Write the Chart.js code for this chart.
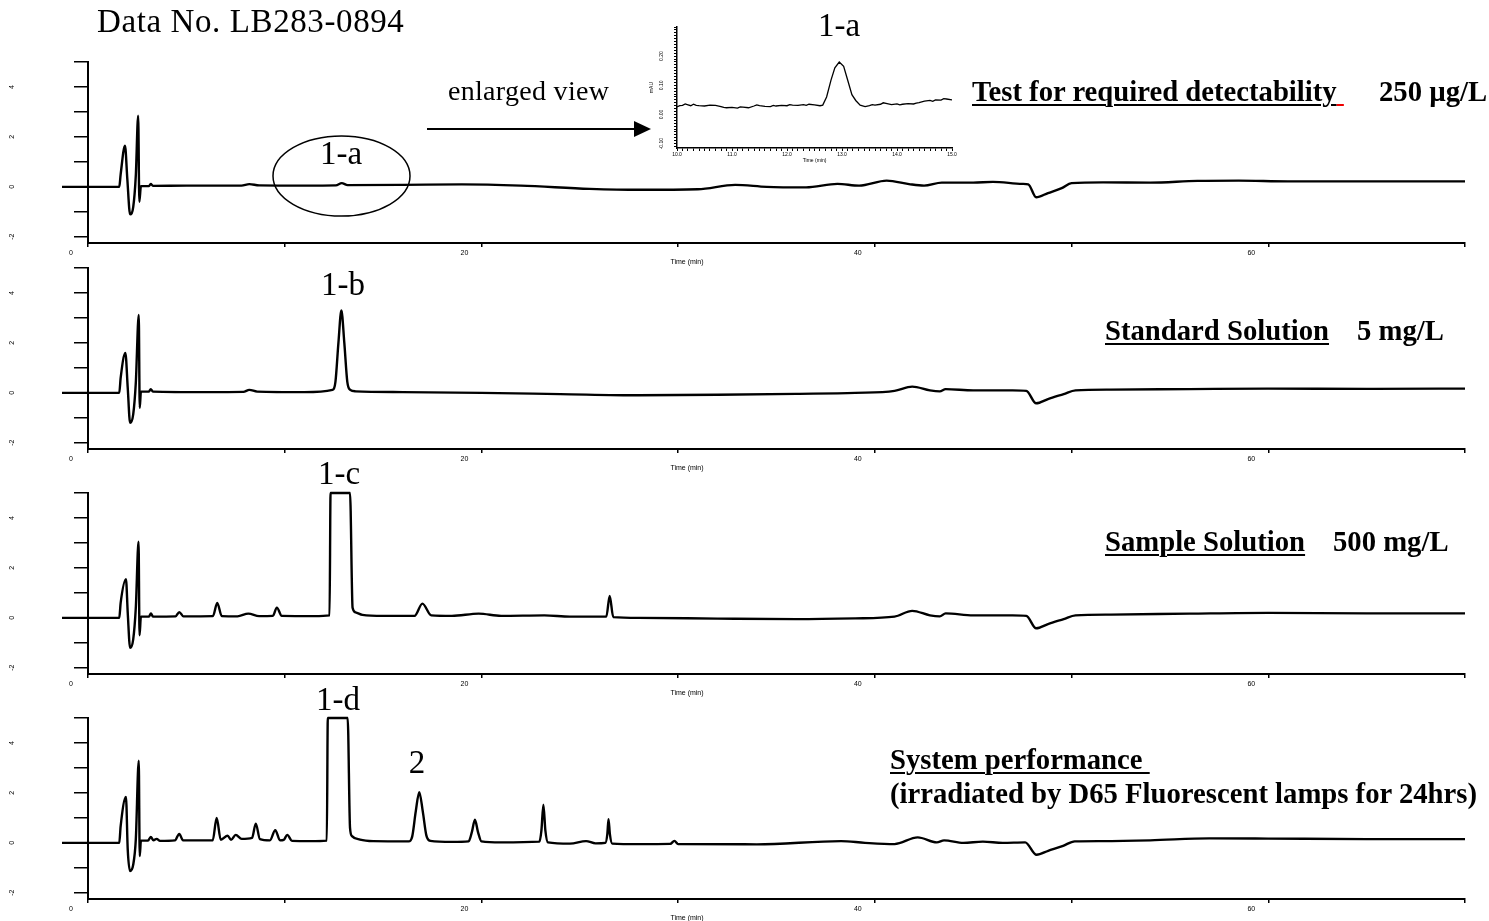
<!DOCTYPE html>
<html>
<head>
<meta charset="utf-8">
<script src="https://cdn.jsdelivr.net/npm/chart.js@4.4.1/dist/chart.umd.min.js"></script>
<style>
  body { margin: 0; background: #fff; width: 1489px; height: 921px; position: relative; overflow: hidden;
         font-family: "Liberation Serif", "Times New Roman", serif; color: #000; }
  .panel { position: absolute; left: 0; width: 1489px; height: 215px; }
  .inset { position: absolute; left: 640px; top: 20px; width: 335px; height: 152px; }
  .txt { position: absolute; white-space: nowrap; line-height: 1; }
  .b { font-weight: bold; font-size: 28.7px; }
  .b u { text-decoration-thickness: 2px; text-underline-offset: 3px; }
  .pk { font-size: 33px; width: 80px; text-align: center; }
  svg { position: absolute; left: 0; top: 0; }
</style>
</head>
<body>

<div class="panel" style="top:58px"><canvas id="test"></canvas></div>
<div class="panel" style="top:264px"><canvas id="standard"></canvas></div>
<div class="panel" style="top:489px"><canvas id="sample"></canvas></div>
<div class="panel" style="top:714px"><canvas id="system"></canvas></div>
<div class="inset"><canvas id="enlarged"></canvas></div>

<svg width="1489" height="921">
  <ellipse cx="341.5" cy="176" rx="68.5" ry="40" fill="none" stroke="#000" stroke-width="1.5"/>
  <line x1="427" y1="129" x2="635" y2="129" stroke="#000" stroke-width="2"/>
  <polygon points="634,121 651,129 634,137" fill="#000"/>
</svg>

<div class="txt" style="left:97px;top:5px;font-size:33px;letter-spacing:0.6px">Data No. LB283-0894</div>
<div class="txt pk" style="left:799px;top:9px">1-a</div>
<div class="txt" style="left:448px;top:77px;font-size:28px;letter-spacing:0.3px">enlarged view</div>
<div class="txt pk" style="left:301px;top:137px">1-a</div>
<div class="txt pk" style="left:303px;top:268px">1-b</div>
<div class="txt pk" style="left:299px;top:457px">1-c</div>
<div class="txt pk" style="left:298px;top:683px">1-d</div>
<div class="txt pk" style="left:377px;top:746px">2</div>

<div class="txt b" style="left:972px;top:77px"><u>Test for required detectability</u><u style="text-decoration-color:#e00">&nbsp;</u></div>
<div class="txt b" style="left:1379px;top:77px">250 µg/L</div>
<div class="txt b" style="left:1105px;top:316px"><u>Standard Solution</u></div>
<div class="txt b" style="left:1357px;top:316px">5 mg/L</div>
<div class="txt b" style="left:1105px;top:527px"><u>Sample Solution</u></div>
<div class="txt b" style="left:1333px;top:527px">500 mg/L</div>
<div class="txt b" style="left:890px;top:745px"><u>System performance&nbsp;</u></div>
<div class="txt b" style="left:890px;top:779px">(irradiated by D65 Fluorescent lamps for 24hrs)</div>

<script>
// retention time (min) and signal (mAU)
const testTime = [-1.32, 1.59, 1.66, 1.88, 2.00, 2.14, 2.30, 2.43, 2.55, 2.61, 2.69, 3.10, 3.19, 3.30, 5.0, 7.8, 8.2, 8.7, 11.0, 12.6, 12.9, 13.2, 16.0, 19.0, 22.0, 25.5, 28.0, 31.0, 32.9, 34.5, 36.5, 38.1, 39.2, 40.6, 41.8, 42.5, 43.4, 45.0, 46.0, 47.5, 47.8, 48.2, 48.8, 49.5, 50.0, 51.6, 54.0, 56.4, 58.5, 61.0, 65.0, 70.0];
const testSignal = [0, 0, 0.5, 1.65, 0.3, -1.1, -0.8, 0.45, 2.85, -0.6, 0.03, 0.03, 0.12, 0.04, 0.05, 0.05, 0.11, 0.06, 0.05, 0.06, 0.15, 0.07, 0.08, 0.1, 0.05, -0.08, -0.12, -0.1, 0.08, 0.0, -0.02, 0.12, 0.05, 0.25, 0.1, 0.05, 0.17, 0.17, 0.2, 0.12, 0.1, -0.42, -0.25, -0.05, 0.15, 0.18, 0.17, 0.24, 0.25, 0.22, 0.22, 0.22];

const standardTime = [-1.32, 1.59, 1.66, 1.90, 2.02, 2.14, 2.30, 2.43, 2.58, 2.63, 2.69, 3.10, 3.19, 3.30, 6.0, 7.9, 8.2, 8.6, 11.0, 12.43, 12.58, 12.73, 12.88, 13.03, 13.18, 13.33, 13.6, 16.0, 20.0, 24.0, 28.0, 32.0, 36.0, 39.0, 41.0, 41.9, 42.8, 43.3, 43.6, 45.0, 47.0, 47.7, 48.2, 48.8, 49.6, 50.2, 52.0, 56.0, 60.0, 65.0, 70.0];
const standardSignal = [0, 0, 0.6, 1.6, 0.2, -1.2, -0.85, 0.4, 3.12, -0.6, 0.05, 0.05, 0.15, 0.05, 0.03, 0.04, 0.12, 0.05, 0.03, 0.12, 0.45, 2.0, 3.3, 2.0, 0.45, 0.12, 0.06, 0.03, 0.0, -0.05, -0.1, -0.08, -0.04, 0.0, 0.08, 0.25, 0.1, 0.06, 0.15, 0.1, 0.1, 0.08, -0.42, -0.25, -0.05, 0.1, 0.13, 0.15, 0.17, 0.16, 0.17];

const sampleTime = [-1.32, 1.59, 1.66, 1.93, 2.02, 2.14, 2.30, 2.43, 2.57, 2.62, 2.69, 3.10, 3.20, 3.30, 4.45, 4.64, 4.85, 6.35, 6.57, 6.80, 7.6, 8.15, 8.7, 9.4, 9.6, 9.85, 11.5, 12.28, 12.33, 13.32, 13.45, 13.6, 13.95, 15.0, 16.6, 17.0, 17.45, 18.5, 19.86, 21.0, 23.2, 24.5, 26.35, 26.52, 26.7, 28.0, 32.0, 36.0, 39.0, 41.0, 41.9, 42.8, 43.3, 43.6, 45.0, 47.0, 47.7, 48.2, 48.8, 49.6, 50.2, 52.0, 56.0, 60.0, 65.0, 70.0];
const sampleSignal = [0, 0, 0.6, 1.55, 0.2, -1.2, -0.85, 0.4, 3.05, -0.7, 0.05, 0.05, 0.18, 0.05, 0.06, 0.23, 0.06, 0.07, 0.6, 0.07, 0.06, 0.17, 0.07, 0.08, 0.41, 0.08, 0.07, 0.1, 5, 5, 0.4, 0.22, 0.12, 0.08, 0.08, 0.57, 0.1, 0.08, 0.17, 0.08, 0.1, 0.05, 0.05, 0.88, 0.03, 0.0, -0.03, -0.05, -0.02, 0.05, 0.28, 0.1, 0.06, 0.18, 0.1, 0.1, 0.08, -0.42, -0.25, -0.05, 0.1, 0.13, 0.17, 0.2, 0.18, 0.18];

const systemTime = [-1.32, 1.59, 1.66, 1.93, 2.02, 2.14, 2.30, 2.43, 2.58, 2.63, 2.69, 3.05, 3.19, 3.33, 3.49, 3.66, 4.42, 4.64, 4.83, 6.34, 6.54, 6.75, 7.10, 7.27, 7.51, 7.81, 8.34, 8.53, 8.74, 9.25, 9.52, 9.76, 9.95, 10.13, 10.37, 11.3, 12.14, 12.19, 13.20, 13.32, 13.42, 13.83, 14.5, 16.30, 16.48, 16.66, 16.84, 17.02, 17.20, 17.40, 18.5, 19.35, 19.52, 19.67, 19.82, 20.0, 21.0, 22.95, 23.05, 23.15, 23.25, 23.38, 24.5, 25.32, 25.8, 26.3, 26.4, 26.46, 26.53, 26.65, 28.0, 29.6, 29.81, 30.0, 34.0, 38.28, 39.5, 41.0, 42.18, 43.15, 43.52, 44.5, 45.49, 46.5, 47.64, 48.22, 48.81, 49.57, 50.16, 51.49, 54.0, 57.0, 60.0, 65.0, 70.0];
const systemSignal = [0, 0, 0.67, 1.84, -0.27, -1.13, -0.87, 0.13, 3.29, -0.53, 0.09, 0.09, 0.24, 0.1, 0.16, 0.08, 0.1, 0.36, 0.1, 0.1, 1.0, 0.12, 0.29, 0.12, 0.32, 0.16, 0.2, 0.77, 0.15, 0.1, 0.51, 0.1, 0.12, 0.32, 0.08, 0.07, 0.09, 5, 5, 0.6, 0.27, 0.13, 0.07, 0.06, 0.25, 1.25, 2.03, 1.25, 0.3, 0.08, 0.04, 0.06, 0.45, 0.93, 0.45, 0.06, 0.02, 0.05, 0.5, 1.53, 0.5, 0.02, -0.03, 0.07, -0.02, 0.0, 0.35, 0.95, 0.35, -0.03, -0.05, -0.04, 0.08, -0.05, -0.06, 0.07, 0.0, -0.05, 0.22, 0.02, 0.1, 0.0, 0.05, 0.0, 0.02, -0.48, -0.32, -0.12, 0.06, 0.07, 0.1, 0.18, 0.17, 0.15, 0.15];

// enlarged view of peak 1-a
const zoomTime = [10.0, 10.05, 10.1, 10.15, 10.2, 10.25, 10.3, 10.35, 10.4, 10.5, 10.6, 10.7, 10.8, 10.85, 10.9, 11.0, 11.1, 11.15, 11.2, 11.3, 11.4, 11.45, 11.5, 11.6, 11.7, 11.75, 11.8, 11.9, 12.0, 12.05, 12.1, 12.2, 12.3, 12.35, 12.4, 12.5, 12.6, 12.65, 12.72, 12.8, 12.87, 12.95, 13.03, 13.1, 13.18, 13.25, 13.33, 13.42, 13.5, 13.55, 13.6, 13.7, 13.75, 13.8, 13.9, 14.0, 14.05, 14.1, 14.2, 14.3, 14.35, 14.4, 14.5, 14.6, 14.65, 14.7, 14.8, 14.85, 14.9, 15.0];
const zoomSignal = [0.026, 0.030, 0.031, 0.036, 0.033, 0.030, 0.035, 0.031, 0.030, 0.029, 0.032, 0.031, 0.027, 0.024, 0.023, 0.024, 0.022, 0.026, 0.025, 0.023, 0.029, 0.033, 0.030, 0.028, 0.027, 0.031, 0.029, 0.031, 0.030, 0.034, 0.032, 0.031, 0.034, 0.031, 0.035, 0.033, 0.030, 0.032, 0.060, 0.118, 0.160, 0.180, 0.165, 0.120, 0.068, 0.048, 0.032, 0.027, 0.030, 0.034, 0.032, 0.035, 0.040, 0.038, 0.034, 0.036, 0.033, 0.035, 0.037, 0.036, 0.039, 0.041, 0.046, 0.048, 0.045, 0.050, 0.049, 0.054, 0.053, 0.050];

const mainTicks = [0, 20, 40, 60];   // labelled times
const yLabels = [-2, 0, 2, 4];       // labelled signal values

Chart.defaults.font.family = '"Liberation Sans", Arial, sans-serif';
Chart.defaults.color = '#000';

function toPoints(times, values) {
    if (times.length !== values.length) console.warn('length mismatch', times.length, values.length);
    return times.map((t, i) => ({ x: t, y: values[i] }));
}

// "Time (min)" sits left of centre in the original
const timeTitle = {
    id: 'timeTitle',
    afterDraw(chart) {
        const { ctx, chartArea } = chart;
        ctx.save();
        ctx.font = '7px "Liberation Sans", Arial';
        ctx.fillStyle = '#000';
        ctx.textAlign = 'center';
        ctx.textBaseline = 'middle';
        ctx.fillText('Time (min)', chartArea.left + (chartArea.right - chartArea.left) * 0.435, chartArea.bottom + 19);
        ctx.restore();
    }
};

function drawTrace(id, times, values) {
    new Chart(document.getElementById(id), {
        type: 'line',
        data: {
            datasets: [{
                data: toPoints(times, values),
                borderColor: '#000',
                borderWidth: 2.4,
                pointRadius: 0,
                cubicInterpolationMode: 'monotone',
                clip: { left: 30, top: 3, right: 3, bottom: 3 }
            }]
        },
        options: {
            responsive: true,
            maintainAspectRatio: false,
            animation: false,
            layout: { padding: { top: 4, right: 24, left: 0, bottom: 0 } },
            plugins: { legend: { display: false }, tooltip: { enabled: false } },
            scales: {
                x: {
                    type: 'linear', min: 0, max: 70,
                    afterFit: s => { s.height = 30; s.paddingLeft = 0; s.paddingRight = 0; },
                    border: { color: '#000', width: 2 },
                    grid: { drawOnChartArea: false, tickLength: 4, color: '#000', lineWidth: 1.5 },
                    ticks: {
                        stepSize: 10, autoSkip: false, maxRotation: 0, labelOffset: -17, padding: 2,
                        font: { size: 7 },
                        callback: v => mainTicks.includes(v) ? v : ''
                    }
                },
                y: {
                    min: -2.25, max: 5,
                    afterFit: s => { s.width = 88; s.paddingTop = 0; s.paddingBottom = 0; },
                    border: { color: '#000', width: 2 },
                    grid: { drawOnChartArea: false, tickLength: 14, color: '#000', lineWidth: 1.5 },
                    ticks: {
                        stepSize: 1, includeBounds: false, autoSkip: false,
                        minRotation: 90, maxRotation: 90, crossAlign: 'center', padding: 59,
                        font: { size: 7 },
                        callback: v => yLabels.includes(v) ? v : ''
                    }
                }
            }
        },
        plugins: [timeTitle]
    });
}

drawTrace('test', testTime, testSignal);
drawTrace('standard', standardTime, standardSignal);
drawTrace('sample', sampleTime, sampleSignal);
drawTrace('system', systemTime, systemSignal);

new Chart(document.getElementById('enlarged'), {
    type: 'line',
    data: {
        datasets: [{
            data: toPoints(zoomTime, zoomSignal),
            borderColor: '#000',
            borderWidth: 1.3,
            pointRadius: 0,
            tension: 0
        }]
    },
    options: {
        responsive: true,
        maintainAspectRatio: false,
        animation: false,
        layout: { padding: { top: 7, right: 23, left: 0, bottom: 0 } },
        plugins: { legend: { display: false }, tooltip: { enabled: false } },
        scales: {
            x: {
                type: 'linear', min: 10, max: 15,
                afterFit: s => { s.height = 24; s.paddingLeft = 0; s.paddingRight = 0; },
                border: { color: '#000', width: 1.5 },
                grid: { drawOnChartArea: false, tickLength: 3, color: '#000', lineWidth: 1 },
                title: { display: true, text: 'Time (min)', font: { size: 5 }, padding: { top: 0, bottom: 8 } },
                ticks: {
                    stepSize: 0.1, autoSkip: false, maxRotation: 0, padding: 0.5,
                    font: { size: 5 },
                    callback: v => Math.abs(v - Math.round(v)) < 1e-6 ? v.toFixed(1) : ''
                }
            },
            y: {
                min: -0.115, max: 0.30,
                afterFit: s => { s.width = 37; s.paddingTop = 0; s.paddingBottom = 0; },
                border: { color: '#000', width: 1.5 },
                grid: { drawOnChartArea: false, tickLength: 3, color: '#000', lineWidth: 1 },
                title: { display: true, text: 'mAU', font: { size: 5 }, padding: { top: 9, bottom: 0 } },
                ticks: {
                    stepSize: 0.01, includeBounds: false, autoSkip: false,
                    minRotation: 90, maxRotation: 90, crossAlign: 'center', padding: 7,
                    font: { size: 5 },
                    callback: v => {
                        const c = Math.round(v * 100);
                        return (c % 10 === 0 && c <= 20) ? (c / 100).toFixed(2) : '';
                    }
                }
            }
        }
    }
});
</script>
</body>
</html>
